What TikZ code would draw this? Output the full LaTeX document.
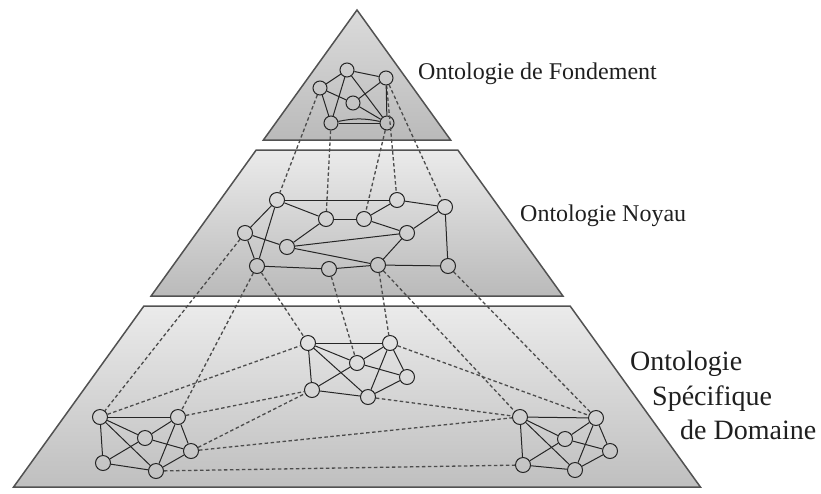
\documentclass[tikz,border=0pt]{standalone}
\usepackage{fontspec}
\setmainfont{Liberation Serif}
\begin{document}
\begin{tikzpicture}[x=1pt,y=-1pt,
  layer/.style={draw=black!68, line width=1.5pt, line join=miter},
  vtx/.style={circle, draw=black!85, line width=1pt, minimum size=15pt, inner sep=0pt},
  link/.style={draw=black!85, line width=1pt},
  xlink/.style={draw=black!70, line width=1.3pt, dash pattern=on 3.5pt off 2.5pt},
  lbl/.style={text=black!88, inner sep=0pt}]
\useasboundingbox (0,0) rectangle (821,493);

% three layers of the pyramid
\path[layer, top color=black!14, bottom color=black!27]
  (357,10) -- (450.6,140) -- (263.4,140) -- cycle;
\path[layer, top color=black!8, bottom color=black!27]
  (256.2,150) -- (457.8,150) -- (562.9,296) -- (151.1,296) -- cycle;
\path[layer, top color=black!8, bottom color=black!25]
  (143.9,306) -- (570.1,306) -- (700.4,487) -- (13.6,487) -- cycle;

% foundation ontology
\node[vtx, minimum size=14pt] (a) at (347,70) {};
\node[vtx, minimum size=14pt] (b) at (386,78) {};
\node[vtx, minimum size=14pt] (c) at (320,88) {};
\node[vtx, minimum size=14pt] (d) at (353,103) {};
\node[vtx, minimum size=14pt] (e) at (331,123) {};
\node[vtx, minimum size=14pt] (f) at (387,123) {};

% core ontology
\node[vtx] (m1) at (277,200) {};
\node[vtx] (m2) at (245,233) {};
\node[vtx] (m3) at (326,219) {};
\node[vtx] (m4) at (364,219) {};
\node[vtx] (m5) at (397,200) {};
\node[vtx] (m6) at (445,207) {};
\node[vtx] (m7) at (407,233) {};
\node[vtx] (m8) at (287,247) {};
\node[vtx] (m9) at (257,266) {};
\node[vtx] (m10) at (329,269) {};
\node[vtx] (m11) at (378,265) {};
\node[vtx] (m12) at (448,266) {};

% domain ontologies
\node[vtx] (l1) at (100,417) {};
\node[vtx] (l2) at (178,417) {};
\node[vtx] (l3) at (145,438) {};
\node[vtx] (l4) at (191,451) {};
\node[vtx] (l5) at (103,463) {};
\node[vtx] (l6) at (156,471) {};

\node[vtx] (c1) at (308,343) {};
\node[vtx] (c2) at (390,343) {};
\node[vtx] (c3) at (357,363) {};
\node[vtx] (c4) at (407,377) {};
\node[vtx] (c5) at (312,390) {};
\node[vtx] (c6) at (368,397) {};

\node[vtx] (r1) at (520,417) {};
\node[vtx] (r2) at (596,418) {};
\node[vtx] (r3) at (565,439) {};
\node[vtx] (r4) at (610,451) {};
\node[vtx] (r5) at (523,465) {};
\node[vtx] (r6) at (575,470) {};

% dashed mappings between ontologies
\foreach \p/\q in {c/m1, e/m3, f/m4, b/m5, b/m6,
    m2/l1, m9/l2, m9/c1, m10/c3, m11/c2, m11/r1, m12/r2,
    l1/c1, l2/c5, l4/c5, l4/r1, l6/r5, c6/r1, c2/r2}
  \draw[xlink] (\p) -- (\q);

% relations inside each ontology
\foreach \p/\q in {a/b, a/c, c/e, a/e, a/f, b/d, c/d, d/f, b/f, e/f}
  \draw[link] (\p) -- (\q);
\draw[link] (e) to[bend left=12] (f);

\foreach \p/\q in {m1/m5, m5/m6, m1/m2, m1/m3, m1/m9, m2/m9, m2/m8,
    m3/m4, m3/m8, m4/m5, m4/m7, m6/m7, m6/m12, m8/m7, m8/m11,
    m7/m11, m9/m10, m10/m11, m11/m12}
  \draw[link] (\p) -- (\q);

\foreach \g in {l, c, r}
  \foreach \p/\q in {1/2, 1/3, 3/2, 1/5, 1/6, 5/3, 5/6, 2/6, 2/4, 4/6, 3/4}
    \draw[link] (\g\p) -- (\g\q);

% layer names
\node[lbl, anchor=base west, font=\fontsize{24}{29}\selectfont] (t1) at (418,79) {Ontologie de Fondement};
\node[lbl, anchor=base west, font=\fontsize{24}{29}\selectfont] (t2) at (520,221) {Ontologie Noyau};
\node[lbl, anchor=base west, font=\fontsize{28}{34}\selectfont] (t3) at (630,370) {Ontologie};
\node[lbl, anchor=base west, font=\fontsize{28}{34}\selectfont] (t4) at (652,405) {Spécifique};
\node[lbl, anchor=base west, font=\fontsize{28}{34}\selectfont] (t5) at (680,439) {de Domaine};
\end{tikzpicture}
\end{document}
